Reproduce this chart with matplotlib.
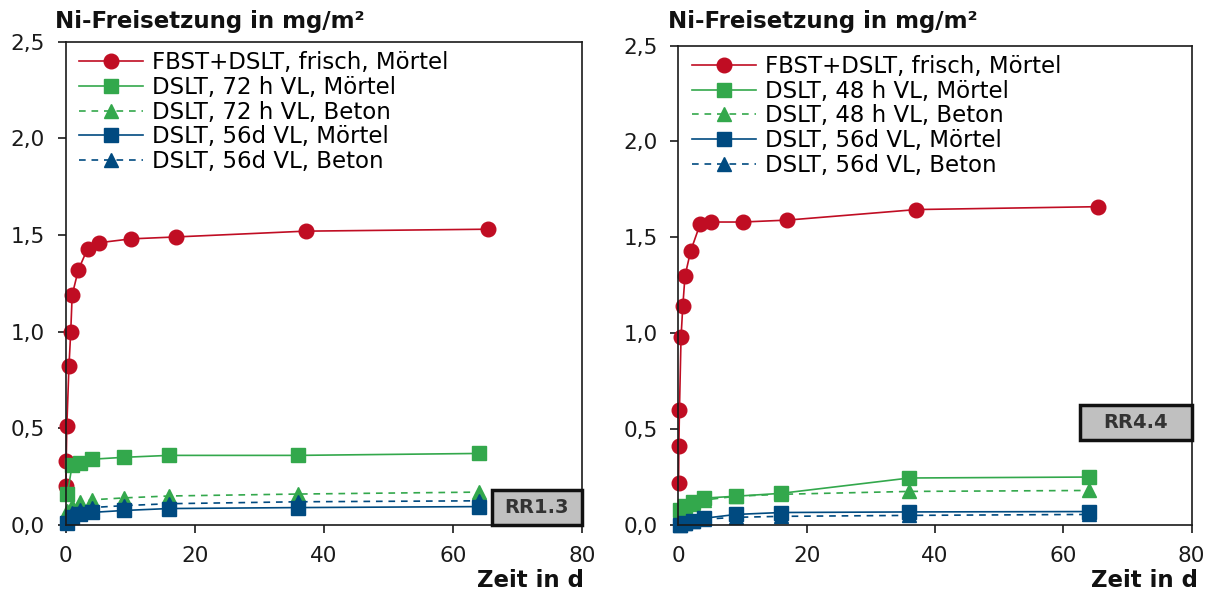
import matplotlib
matplotlib.use("Agg")
import matplotlib.pyplot as plt
from matplotlib.ticker import FuncFormatter, MultipleLocator
from matplotlib.patches import Rectangle

plt.rcParams["font.family"] = ["DejaVu Sans"]

# Zeitpunkte in d
t_dslt = [0.25, 1, 2.25, 4, 9, 16, 36, 64]
t_frisch_l = [0.04, 0.08, 0.17, 0.5, 0.78, 1.0, 1.96, 3.4, 5.15, 10.1, 17.1, 37.2, 65.4]
t_frisch_r = [0.04, 0.08, 0.17, 0.42, 0.69, 1.04, 1.93, 3.4, 5.05, 10.0, 17.0, 37.1, 65.4]

# RR1.3 (links)
frisch_l = [0.20, 0.33, 0.51, 0.82, 1.00, 1.19, 1.32, 1.43, 1.46, 1.48, 1.49, 1.52, 1.53]
vl72_moertel = [0.16, 0.31, 0.32, 0.34, 0.35, 0.36, 0.36, 0.37]
vl72_beton = [0.07, 0.10, 0.12, 0.13, 0.14, 0.15, 0.16, 0.17]
vl56_moertel_l = [0.01, 0.04, 0.055, 0.065, 0.075, 0.085, 0.09, 0.095]
vl56_beton_l = [0.03, 0.06, 0.08, 0.09, 0.10, 0.11, 0.12, 0.125]

# RR4.4 (rechts)
frisch_r = [0.22, 0.41, 0.60, 0.98, 1.14, 1.30, 1.43, 1.57, 1.58, 1.58, 1.59, 1.645, 1.66]
vl48_moertel = [0.08, 0.10, 0.12, 0.14, 0.15, 0.165, 0.245, 0.25]
vl48_beton = [0.05, 0.09, 0.11, 0.13, 0.15, 0.16, 0.175, 0.18]
vl56_moertel_r = [0.0, 0.01, 0.02, 0.035, 0.055, 0.065, 0.068, 0.07]
vl56_beton_r = [0.0, 0.01, 0.02, 0.03, 0.04, 0.045, 0.05, 0.055]

ROT = "#c00d23"
GRUEN = "#33a84c"
BLAU = "#004a80"
DASH = (0, (4, 3.5))


def komma(v, pos):
    return f"{v:.1f}".replace(".", ",")


def panel(ax, tf, frisch, vl_label, m1, b1, m2, b2, rr, box):
    kw = dict(lw=1.2, clip_on=False)
    ax.plot(tf, frisch, color=ROT, marker="o", ms=10.5, label="FBST+DSLT, frisch, Mörtel", **kw)
    ax.plot(t_dslt, m1, color=GRUEN, marker="s", ms=10, label=f"DSLT, {vl_label} VL, Mörtel", **kw)
    ax.plot(t_dslt, b1, color=GRUEN, marker="^", ms=10, ls=DASH, label=f"DSLT, {vl_label} VL, Beton", **kw)
    ax.plot(t_dslt, m2, color=BLAU, marker="s", ms=10, label="DSLT, 56d VL, Mörtel", **kw)
    ax.plot(t_dslt, b2, color=BLAU, marker="^", ms=10, ls=DASH, label="DSLT, 56d VL, Beton", **kw)

    ax.set_xlim(0, 80)
    ax.set_ylim(0, 2.5)
    ax.xaxis.set_major_locator(MultipleLocator(20))
    ax.yaxis.set_major_locator(MultipleLocator(0.5))
    ax.yaxis.set_major_formatter(FuncFormatter(komma))
    ax.tick_params(direction="out", length=6, width=1.2, labelsize=15.5, colors="#1a1a1a")
    ax.tick_params(axis="x", pad=9)
    ax.tick_params(axis="y", pad=9)
    for s in ax.spines.values():
        s.set_linewidth(1.2)
        s.set_color("#1a1a1a")

    ax.legend(loc="upper left", bbox_to_anchor=(0.008, 1.0), frameon=False, fontsize=16.5,
              handlelength=2.8, handletextpad=0.4, labelspacing=0.08, borderaxespad=0.1,
              borderpad=0.3, markerscale=1.0)

    x0, y0, w, h = box
    ax.add_patch(Rectangle((x0, y0), w, h, transform=ax.transAxes, facecolor="#c0c0c0",
                           edgecolor="#111111", lw=2.5, zorder=5, clip_on=False))
    ax.text(x0 + w / 2, y0 + h / 2, rr, transform=ax.transAxes, ha="center", va="center",
            fontsize=14, fontweight="bold", color="#333333", zorder=6)


fig = plt.figure(figsize=(12.17, 5.94), dpi=100)
ax1 = fig.add_axes([0.054, 0.1162, 0.424, 0.8136])
ax2 = fig.add_axes([0.5574, 0.1162, 0.4218, 0.807])

panel(ax1, t_frisch_l, frisch_l, "72 h", vl72_moertel, vl72_beton, vl56_moertel_l, vl56_beton_l,
      "RR1.3", (0.826, 0.0, 0.174, 0.072))
panel(ax2, t_frisch_r, frisch_r, "48 h", vl48_moertel, vl48_beton, vl56_moertel_r, vl56_beton_r,
      "RR4.4", (0.782, 0.177, 0.218, 0.073))

for x in (55 / 1217, 668 / 1217):
    fig.text(x, 1 - 28 / 594, "Ni-Freisetzung in mg/m²", fontsize=16.5, fontweight="bold",
             va="baseline", ha="left", color="#111111")
for x in (584 / 1217, 1198 / 1217):
    fig.text(x, 1 - 587 / 594, "Zeit in d", fontsize=16.5, fontweight="bold",
             va="baseline", ha="right", color="#111111")

fig.savefig("out.png", dpi=100)
